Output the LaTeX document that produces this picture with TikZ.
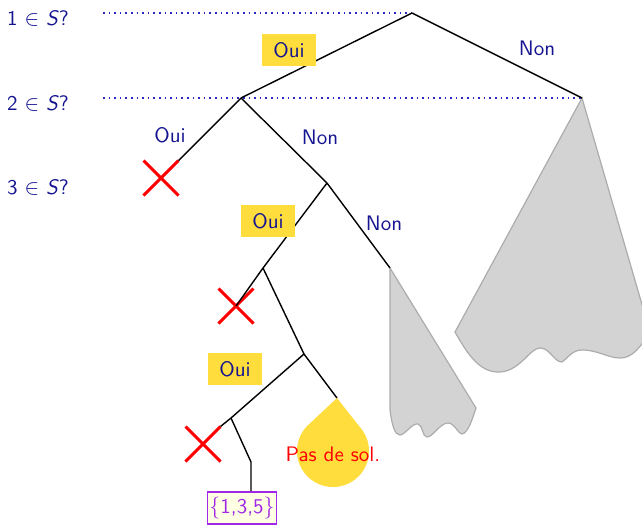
\documentclass[tikz,border=0pt]{standalone}
\usetikzlibrary{shapes.misc}

\definecolor{navy}{RGB}{20,20,145}
\definecolor{pointe}{RGB}{40,40,200}
\definecolor{surligne}{RGB}{255,221,60}
\definecolor{grisarbre}{RGB}{211,211,211}
\definecolor{violette}{RGB}{160,40,230}
\definecolor{ivoire}{RGB}{255,255,228}

\begin{document}
\begin{tikzpicture}[x=0.5pt, y=-0.5pt,
    every node/.style={font=\sffamily\fontsize{10.5pt}{12pt}\selectfont, text=navy},
    branche/.style={line width=0.7pt},
    pointille/.style={dotted, thick, pointe},
    coupe/.style={cross out, draw=red, line width=1.5pt, minimum size=16pt, inner sep=0pt},
    oui/.style={fill=surligne, minimum width=27pt, minimum height=16pt, inner sep=0pt},
    solution/.style={draw=violette, fill=ivoire, text=violette, line width=0.8pt,
      minimum width=33.5pt, minimum height=16pt, inner sep=1pt},
    sousarbre/.style={fill=grisarbre, draw=gray!65, line width=0.6pt}]
  \useasboundingbox (0,0) rectangle (642,526);
  \clip (0,0) rectangle (642,526);

  % questions a gauche
  \node[anchor=west] (q1) at (0,18) {1 $\in$ \textit{S}?};
  \node[anchor=west] (q2) at (0,103) {2 $\in$ \textit{S}?};
  \node[anchor=west] (q3) at (0,187) {3 $\in$ \textit{S}?};

  % sommets de l'arbre
  \coordinate (r) at (412,13);
  \coordinate (o) at (241,98);
  \coordinate (n) at (582,98);
  \coordinate (on) at (327,183);
  \coordinate (ono) at (263,268);
  \coordinate (onn) at (390,268);
  \coordinate (onon) at (304,354);
  \coordinate (onono) at (231,418);
  \coordinate (ononn) at (337,398);
  \coordinate (coude) at (251,462);
  \coordinate (d1) at (103,13);
  \coordinate (d2) at (103,98);
  \coordinate (goutte) at (333,451);

  % sous-arbres non explores
  \draw[sousarbre] (n) -- (455,332)
    .. controls (468,355) and (480,373) .. (500,372)
    .. controls (520,371) and (530,348) .. (540,348)
    .. controls (550,348) and (554,362) .. (562,362)
    .. controls (568,358) and (572,350) .. (582,350)
    .. controls (598,350) and (608,358) .. (620,358)
    .. controls (632,358) and (640,348) .. (650,332) -- cycle;
  \draw[sousarbre] (onn) -- (390,410)
    .. controls (392,426) and (395,435) .. (400,435)
    .. controls (406,434) and (412,423) .. (418,424)
    .. controls (423,425) and (422,437) .. (427,437)
    .. controls (433,437) and (440,423) .. (448,423)
    .. controls (455,423) and (458,434) .. (462,434)
    .. controls (468,433) and (472,420) .. (476,408) -- cycle;

  % pas de solution
  \fill[surligne] (ononn) -- ([shift={(-42.8:36)}]goutte)
    arc[start angle=-42.8, end angle=222.8, radius=36] -- cycle;
  \node[text=red] (pas) at (333,454) {Pas de sol.};

  % coupures
  \node[coupe] (oo) at (161,178) {};
  \node[coupe] (onoo) at (236,306) {};
  \node[coupe] (ononoo) at (203,444) {};
  \node[solution] (sol) at (242,508) {$\{$1,3,5$\}$};

  \draw[pointille] (d1) -- (r);
  \draw[pointille] (d2) -- (n);

  \draw[branche] (r) -- (o);
  \draw[branche] (r) -- (n);
  \draw[branche] (o) -- (oo.north east);
  \draw[branche] (o) -- (on);
  \draw[branche] (on) -- (ono);
  \draw[branche] (on) -- (onn);
  \draw[branche] (ono) -- (onoo.center);
  \draw[branche] (ono) -- (onon);
  \draw[branche] (onon) -- (onono);
  \draw[branche] (onon) -- (ononn);
  \draw[branche] (onono) -- (ononoo.north east);
  \draw[branche] (onono) -- (coude) -- (coude |- sol.north);

  % etiquettes
  \node[oui] (lo1) at (289,50) {Oui};
  \node (ln1) at (537,48) {Non};
  \node (lo2) at (170,135) {Oui};
  \node (ln2) at (320,137) {Non};
  \node[oui] (lo3) at (268,221) {Oui};
  \node (ln3) at (384,223) {Non};
  \node[oui] (lo5) at (235,369) {Oui};
\end{tikzpicture}
\end{document}
